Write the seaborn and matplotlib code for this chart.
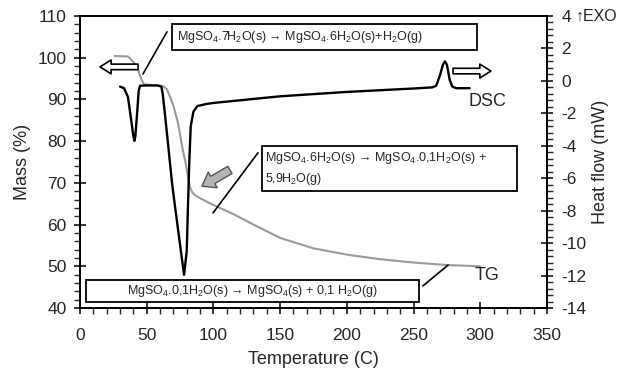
import numpy as np
import pandas as pd
import matplotlib.pyplot as plt
import seaborn as sns
from matplotlib.patches import Rectangle
from matplotlib.ticker import MultipleLocator

# DSC (heat flow, mW)
dsc_temp = [30, 33, 36, 38, 40, 40.8, 41.5, 43, 44, 45, 50, 58, 61, 62, 64, 66.5, 69, 71, 75, 78,
            80, 81, 82, 83, 85, 88, 95, 100, 150, 200, 250, 264, 267, 270, 272, 273.5, 275, 277,
            279, 282, 292]
dsc_flow = [-0.35, -0.45, -1.0, -2.2, -3.4, -3.7, -3.4, -1.8, -0.6, -0.3, -0.28, -0.28, -0.35, -0.8,
            -2.3, -4.3, -6.3, -7.6, -10.1, -11.95, -10.5, -7.5, -4.8, -2.8, -1.9, -1.55, -1.42, -1.36,
            -0.95, -0.68, -0.47, -0.40, -0.30, 0.4, 1.0, 1.2, 1.0, 0.1, -0.35, -0.45, -0.45]

# TG (mass %)
tg_temp = [26, 36, 40, 43, 46, 48, 55, 62, 65, 67.5, 70, 73.5, 77, 79, 81, 82.5, 84, 86, 90, 100,
           115, 130, 150, 175, 200, 225, 250, 275, 300]
tg_mass = [100.4, 100.3, 99, 97.5, 94.8, 93.6, 93.4, 93.2, 92.5, 90.6, 88.5, 84.3, 78, 75, 71.4, 69,
           67.8, 67.1, 66.3, 64.7, 62.5, 60, 56.8, 54.3, 52.8, 51.7, 50.9, 50.3, 50.0]

reaction1 = r"MgSO$_4$.7H$_2$O(s) → MgSO$_4$.6H$_2$O(s)+H$_2$O(g)"
reaction2 = "MgSO$_4$.6H$_2$O(s) → MgSO$_4$.0,1H$_2$O(s) +\n5,9H$_2$O(g)"
reaction3 = r"MgSO$_4$.0,1H$_2$O(s) → MgSO$_4$(s) + 0,1 H$_2$O(g)"

sns.set_style("white")
plt.rcParams['font.family'] = ['Liberation Sans', 'DejaVu Sans']
plt.rcParams['mathtext.default'] = 'regular'
plt.rcParams['axes.unicode_minus'] = False

dsc = pd.DataFrame({"T": dsc_temp, "hf": dsc_flow})
tg = pd.DataFrame({"T": tg_temp, "m": tg_mass})

fig = plt.figure(figsize=(6.21, 3.79), dpi=100)
ax = fig.add_axes([0.1288, 0.1873, 0.752, 0.7705])
ax2 = ax.twinx()

sns.lineplot(data=tg, x="T", y="m", ax=ax, color="#9a9a9a", lw=1.5)
sns.lineplot(data=dsc, x="T", y="hf", ax=ax2, color="black", lw=1.7)

ax.set_xlim(0, 350)
ax.set_ylim(40, 110)
ax2.set_ylim(-14, 4)

ax.xaxis.set_major_locator(MultipleLocator(50))
ax.xaxis.set_minor_locator(MultipleLocator(10))
ax.yaxis.set_major_locator(MultipleLocator(10))
ax.yaxis.set_minor_locator(MultipleLocator(2))
ax2.yaxis.set_major_locator(MultipleLocator(2))
ax2.yaxis.set_minor_locator(MultipleLocator(0.4))

for a in (ax, ax2):
    a.tick_params(which='major', direction='inout', length=9, width=1.3, labelsize=12.5, pad=5)
    a.tick_params(which='minor', direction='out', length=4, width=1)
    for s in a.spines.values():
        s.set_linewidth(1.3)
        s.set_color('black')
ax.tick_params(which='both', left=True, bottom=True, right=False, top=False)
ax.tick_params(axis='x', which='major', pad=10)
ax2.tick_params(which='both', right=True, left=False)
ax2.tick_params(which='major', pad=6)

ax.set_xlabel("Temperature (C)", fontsize=13, labelpad=6)
ax.set_ylabel("Mass (%)", fontsize=13, labelpad=5)
ax2.set_ylabel("Heat flow (mW)", fontsize=13, labelpad=4)

ax2.text(1.061, 1.0, "↑EXO", transform=ax.transAxes, fontsize=11.5, va='center', ha='left')

# reaction boxes
ax.add_patch(Rectangle((69, 101.8), 228.6, 6.3, fill=False, ec='black', lw=1.3, zorder=5))
ax.text(72.5, 105, reaction1, fontsize=9, va='center', ha='left', zorder=6)
ax.add_patch(Rectangle((136.4, 68.0), 191.2, 10.8, fill=False, ec='black', lw=1.3, zorder=5))
ax.text(138.5, 73.4, reaction2, fontsize=9, va='center', ha='left', linespacing=1.5, zorder=6)
ax.add_patch(Rectangle((4.5, 41.4), 249.6, 5.3, fill=False, ec='black', lw=1.3, zorder=5))
ax.text(129.3, 44.05, reaction3, fontsize=9, va='center', ha='center', zorder=6)

# leader lines
ax.plot([47.2, 65.2], [96.1, 106.2], color='black', lw=1.2)
ax.plot([99.7, 133.4], [62.8, 77.2], color='black', lw=1.2)
ax.plot([257, 275.9], [45.3, 50.3], color='black', lw=1.2)

# arrows
ax.annotate('', xy=(15, 97.8), xytext=(43.5, 97.8),
            arrowprops=dict(arrowstyle='simple,head_length=0.8,head_width=1.0,tail_width=0.4',
                            fc='white', ec='black', lw=1.2, shrinkA=0, shrinkB=0))
ax.annotate('', xy=(308, 96.8), xytext=(279.6, 96.8),
            arrowprops=dict(arrowstyle='simple,head_length=0.8,head_width=1.0,tail_width=0.4',
                            fc='white', ec='black', lw=1.2, shrinkA=0, shrinkB=0))
ax.annotate('', xy=(91.4, 69.2), xytext=(112.4, 73.1),
            arrowprops=dict(arrowstyle='simple,head_length=0.9,head_width=1.3,tail_width=0.6',
                            fc='#b4b4b4', ec='#555555', lw=1, shrinkA=0, shrinkB=0))

ax.text(305.5, 89.6, "DSC", fontsize=13, ha='center', va='center')
ax.text(305, 47.8, "TG", fontsize=13, ha='center', va='center')

fig.savefig("out.png", dpi=100)
